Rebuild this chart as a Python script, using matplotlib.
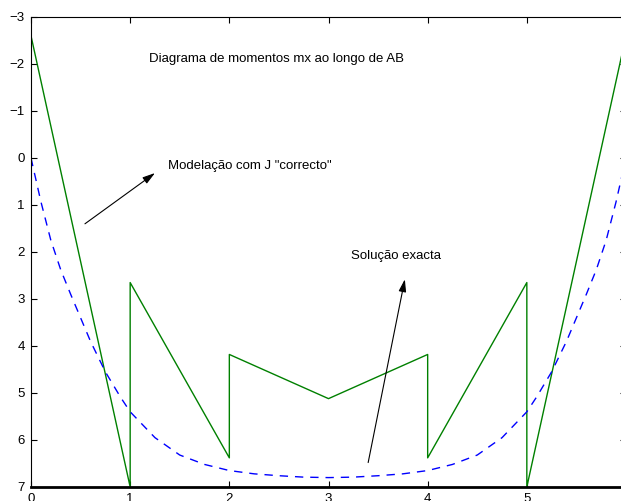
import numpy as np
import matplotlib
matplotlib.use('Agg')
import matplotlib.pyplot as plt

plt.rcParams['font.family'] = ['Liberation Sans', 'DejaVu Sans']

# Modelacao com J "correcto" (piecewise, jumps at the element nodes)
x_fem = [0, 1, 1, 2, 2, 3, 4, 4, 5, 5, 6]
m_fem = [-2.6, 7.0, 2.65, 6.38, 4.18, 5.12, 4.18, 6.38, 2.65, 7.0, -2.6]

# Solucao exacta
x_ex = [0, 0.1, 0.2, 0.3, 0.4, 0.5, 0.6, 0.75, 0.9, 1.0, 1.25, 1.5, 1.75, 2.0,
        2.25, 2.5, 2.75, 3.0, 3.25, 3.5, 3.75, 4.0, 4.25, 4.5, 4.75, 5.0,
        5.1, 5.25, 5.4, 5.5, 5.6, 5.7, 5.8, 5.9, 6.0]
m_ex = [0, 0.93, 1.75, 2.38, 2.9, 3.4, 3.9, 4.55, 5.08, 5.4, 5.95, 6.32, 6.52, 6.65,
        6.72, 6.76, 6.79, 6.8, 6.79, 6.76, 6.72, 6.65, 6.52, 6.32, 5.95, 5.4,
        5.08, 4.55, 3.9, 3.4, 2.9, 2.38, 1.75, 0.93, 0]

fig = plt.figure(figsize=(6.21, 5.01), dpi=100)
ax = fig.add_axes([31/621, 14/501, 595/621, 470/501])

ax.plot(x_fem, m_fem, color='#008000', lw=1.0)
ax.plot(x_ex, m_ex, color='#0000ff', lw=1.0, linestyle=(0, (6, 5)))

ax.set_xlim(0, 6)
ax.set_ylim(7, -3)
ax.set_xticks([0, 1, 2, 3, 4, 5, 6])
ax.set_yticks(range(-3, 8))
ax.tick_params(direction='in', top=True, right=True, length=4.3, width=0.8,
               labelsize=9.5, pad=4.5)
for s in ax.spines.values():
    s.set_linewidth(0.8)
ax.spines['bottom'].set_linewidth(2)

fs = 9.5
ax.text(1.19, -2.11, 'Diagrama de momentos mx ao longo de AB', fontsize=fs, va='center')
ax.text(1.38, 0.18, 'Modelação com J "correcto"', fontsize=fs, va='center')
ax.text(3.23, 2.09, 'Solução exacta', fontsize=fs, va='center')

arrow = dict(arrowstyle='-|>,head_length=0.5,head_width=0.15', color='k',
             lw=0.8, mutation_scale=15, shrinkA=0, shrinkB=0)
ax.annotate('', xy=(1.25, 0.32), xytext=(0.544, 1.40), arrowprops=arrow)
ax.annotate('', xy=(3.77, 2.58), xytext=(3.40, 6.48), arrowprops=arrow)

fig.savefig('out.png', dpi=100)
